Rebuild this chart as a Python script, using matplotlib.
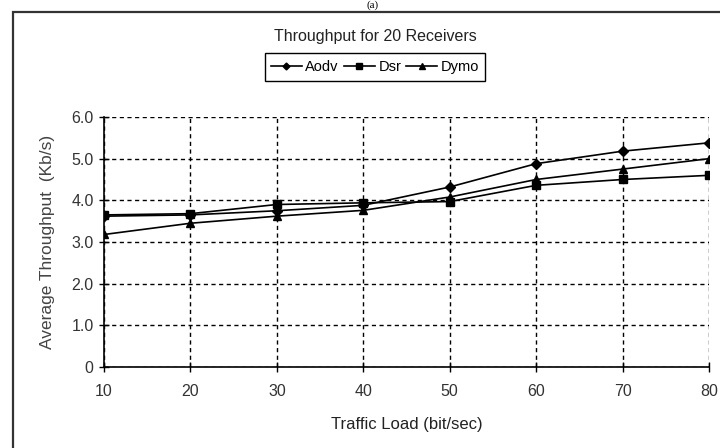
import matplotlib
matplotlib.use("Agg")
import matplotlib.pyplot as plt
from matplotlib.patches import Rectangle

plt.rcParams['font.family'] = ['Liberation Sans', 'DejaVu Sans']

traffic_load = [10, 20, 30, 40, 50, 60, 70, 80]
aodv = [3.62, 3.65, 3.75, 3.88, 4.32, 4.88, 5.18, 5.38]
dsr = [3.65, 3.68, 3.90, 3.94, 3.97, 4.36, 4.50, 4.60]
dymo = [3.18, 3.45, 3.62, 3.76, 4.08, 4.50, 4.75, 5.00]

y_ticks = [0, 1, 2, 3, 4, 5, 6]
y_tick_labels = ["0", "1.0", "2.0", "3.0", "4.0", "5.0", "6.0"]

W, H = 720, 448
fig = plt.figure(figsize=(W / 100, H / 100), dpi=100)
fig.patch.set_facecolor('white')

# outer frame (extends beyond the right/bottom edge)
fig.patches.append(Rectangle((13 / W, -0.1), 1.2, (H - 12) / H + 0.1,
                             transform=fig.transFigure, fill=False,
                             edgecolor='#333333', linewidth=1.6))
fig.text(373 / W, 1 - 0.5 / H, "(a)", ha='center', va='top',
         fontsize=8, family=['Liberation Serif', 'DejaVu Serif'])

ax = fig.add_axes([104 / W, (H - 367) / H, (709 - 104) / W, (367 - 117) / H])

ax.plot(traffic_load, aodv, color='black', lw=1.2, marker='D', ms=5, label='Aodv')
ax.plot(traffic_load, dsr, color='black', lw=1.2, marker='s', ms=5.5, label='Dsr')
ax.plot(traffic_load, dymo, color='black', lw=1.2, marker='^', ms=6, label='Dymo')

ax.set_xlim(10, 80)
ax.set_ylim(0, 6)
ax.set_xticks(traffic_load)
ax.set_yticks(y_ticks)
ax.set_yticklabels(y_tick_labels)
ax.grid(True, color='black', linestyle=(0, (3, 2.5)), linewidth=1.0)
ax.set_axisbelow(True)
for s in ['top', 'right']:
    ax.spines[s].set_visible(False)
for s in ['left', 'bottom']:
    ax.spines[s].set_linewidth(1.2)
ax.tick_params(direction='inout', length=7, width=1.0, labelsize=11.5,
               colors='black', pad=4)
ax.tick_params(axis='x', pad=9)
for lab in ax.get_xticklabels() + ax.get_yticklabels():
    lab.set_color('#333333')

ax.set_xlabel("Traffic Load (bit/sec)", fontsize=12, labelpad=13, color='#222222')
ax.set_ylabel("Average Throughput  (Kb/s)", fontsize=12.5, labelpad=12, color='#444444')

fig.text(375 / W, 1 - 36 / H, "Throughput for 20 Receivers", ha='center',
         va='center', fontsize=11.5, color='#222222')
leg = fig.legend(loc='center', bbox_to_anchor=(375 / W, 1 - 67 / H), ncol=3,
                 frameon=True, fancybox=False, edgecolor='black',
                 fontsize=10.5, handlelength=2.1, handletextpad=0.25,
                 columnspacing=0.35, borderpad=0.45, framealpha=1,
                 markerscale=0.7)
leg.get_frame().set_linewidth(1.0)

fig.savefig("out.png", dpi=100)
